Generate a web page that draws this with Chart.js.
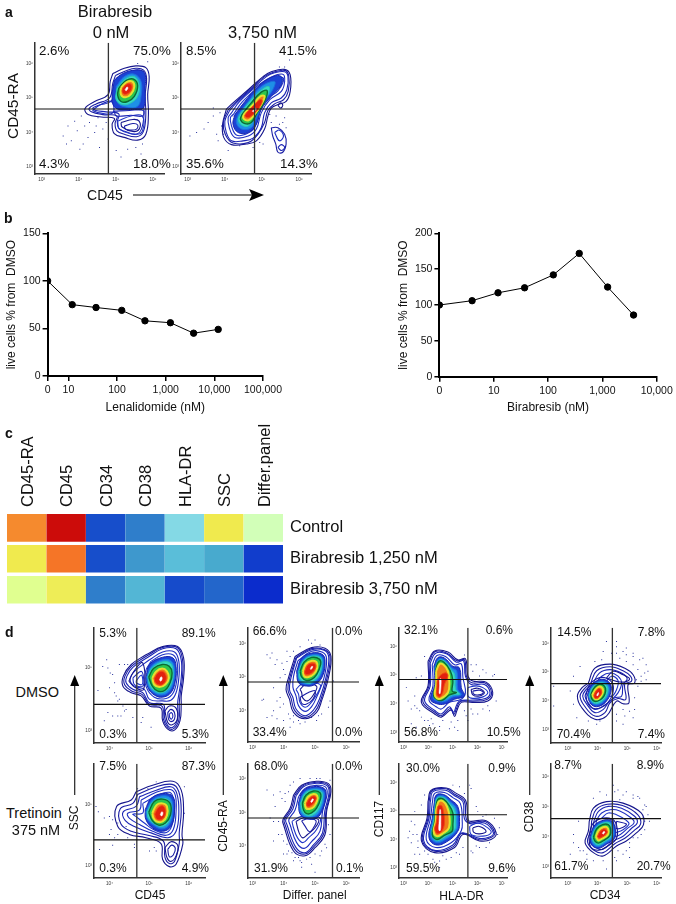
<!DOCTYPE html>
<html>
<head>
<meta charset="utf-8">
<title>Birabresib flow panels</title>
<script src="https://cdn.jsdelivr.net/npm/chart.js@4/dist/chart.umd.min.js"></script>
<style>
html,body{margin:0;padding:0;background:#fff}
#page{position:relative;width:676px;height:904px;overflow:hidden;font-family:"Liberation Sans",Arial,sans-serif;color:#111}
#page canvas{position:absolute}
#page svg{position:absolute;left:0;top:0}
.txt{position:absolute;white-space:pre;line-height:1}
</style>
</head>
<body>
<div id="page"></div>
<script>
// panel b, viability curves (dose nM, % of DMSO)
var lenaDoses = [0, 12, 37, 125, 375, 1250, 3750, 12000];
var lenaLive = [100, 75, 72, 69, 58, 56, 45, 49];
var lenaTicks = [0, 10, 100, 1000, 10000, 100000];
var lenaLiveTicks = [0, 50, 100, 150];
var biraDoses = [0, 4, 12, 37, 125, 375, 1250, 3750];
var biraLive = [100, 106, 117, 124, 142, 172, 125, 86];
var biraTicks = [0, 10, 100, 1000, 10000];
var biraLiveTicks = [0, 50, 100, 150, 200];

// panel c, heatmap (0 to 1)
var heatMarkers = ['CD45-RA', 'CD45', 'CD34', 'CD38', 'HLA-DR', 'SSC', 'Differ.panel'];
var heatRows = ['Control', 'Birabresib 1,250 nM', 'Birabresib 3,750 nM'];
var heatControl = [0.70, 1.00, 0.10, 0.20, 0.42, 0.62, 0.50];
var heat1250 = [0.62, 0.74, 0.10, 0.26, 0.35, 0.30, 0.05];
var heat3750 = [0.55, 0.61, 0.20, 0.33, 0.09, 0.15, 0.00];

// flow plots: log10 intensity, each ring is x,y,x,y...
var a1Pct = ['2.6%', '75.0%', '4.3%', '18.0%'];
var a1Lines = [
 [4.92,5.71,5.23,5.86,5.54,5.93,5.81,5.88,5.90,5.62,5.86,5.10,5.88,4.52,5.81,3.95,5.59,3.78,5.23,3.86,4.96,3.97,4.90,4.24,4.96,4.41,4.61,4.45,4.25,4.52,4.17,4.70,4.43,4.90,4.79,5.10,4.85,5.48],
 [4.99,5.65,5.26,5.78,5.54,5.86,5.75,5.81,5.83,5.57,5.79,5.05,5.81,4.52,5.74,4.02,5.56,3.88,5.23,3.95,5.03,4.05,4.98,4.26,5.03,4.48,4.65,4.52,4.34,4.60,4.28,4.70,4.47,4.83,4.83,5.00,4.92,5.43],
 [5.03,5.59,5.28,5.71,5.54,5.81,5.70,5.77,5.77,5.55,5.74,5.05,5.76,4.52,5.69,4.10,5.54,3.95,5.26,4.03,5.08,4.12,5.04,4.31,5.08,4.54,4.74,4.60,4.46,4.64,4.38,4.71,4.54,4.79,4.88,4.92,4.96,5.38],
 [4.37,4.64,4.56,4.79,4.88,4.90,4.92,4.57,4.56,4.57],
 [5.05,4.33,5.41,4.48,5.71,4.48,5.72,4.05,5.54,3.95,5.10,4.10],
 [5.14,4.29,5.46,4.38,5.63,4.33,5.63,4.10,5.46,4.03,5.17,4.16],
 [5.23,4.19,5.46,4.26,5.59,4.22,5.56,4.10,5.41,4.07,5.26,4.10],
 [4.96,4.62,5.37,4.64,5.74,4.64,5.72,4.48,5.41,4.50,5.01,4.48]
];
var a1Core = [
 [4.96,5.52,5.19,5.71,5.54,5.81,5.77,5.74,5.79,5.29,5.74,4.71,5.46,4.67,5.01,4.70,4.90,5.00],
 [5.01,5.33,5.23,5.62,5.50,5.69,5.68,5.48,5.68,5.05,5.59,4.76,5.32,4.73,5.05,4.86],
 [5.03,5.27,5.26,5.55,5.50,5.62,5.63,5.38,5.59,5.05,5.41,4.86,5.19,4.81,5.01,4.95],
 [5.08,5.29,5.28,5.51,5.48,5.55,5.59,5.36,5.50,5.05,5.32,4.90,5.14,4.90,5.05,5.08],
 [5.14,5.30,5.29,5.46,5.44,5.48,5.50,5.33,5.41,5.11,5.26,5.02,5.14,5.10],
 [5.19,5.29,5.29,5.40,5.41,5.40,5.43,5.27,5.34,5.14,5.23,5.11,5.17,5.19],
 [5.25,5.24,5.30,5.32,5.33,5.29,5.28,5.21]
];
var a1Dots = [3.58,3.90,3.71,4.19,3.80,3.76,3.89,4.33,3.96,4.05,4.07,4.48,4.16,4.19,4.12,3.67,4.25,3.86,4.29,4.29,4.43,4.00,4.52,4.43,4.56,3.57,4.65,4.10,4.74,4.29,4.79,3.81,5.01,3.48,5.14,3.29,5.32,3.52,5.54,3.57,5.68,3.38,5.72,3.67,5.86,6.05,5.59,6.00,4.03,3.52,4.47,4.19,3.67,3.67];

var a2Pct = ['8.5%', '41.5%', '35.6%', '14.3%'];
var a2Lines = [
 [4.04,4.67,4.22,4.86,4.63,5.24,5.03,5.62,5.25,5.76,5.61,5.83,5.76,5.67,5.76,5.19,5.65,4.90,5.43,4.81,5.25,4.71,5.16,4.48,5.07,4.10,4.85,3.76,4.58,3.67,4.18,3.65,3.97,3.86,3.94,4.24],
 [4.08,4.64,4.27,4.86,4.67,5.24,5.07,5.62,5.29,5.74,5.61,5.80,5.72,5.65,5.71,5.21,5.58,4.95,5.34,4.83,5.16,4.64,5.07,4.29,4.89,3.95,4.63,3.71,4.22,3.70,4.02,3.93,3.96,4.29],
 [4.12,4.62,4.31,4.86,4.71,5.24,5.12,5.62,5.34,5.73,5.61,5.76,5.70,5.62,5.67,5.24,5.52,5.00,5.25,4.86,5.07,4.57,4.98,4.14,4.76,3.84,4.49,3.76,4.18,3.76,4.04,4.00,4.00,4.33],
 [4.18,4.57,4.40,4.90,4.85,5.33,5.21,5.59,5.56,5.69,5.61,5.48,5.52,5.19,5.21,4.95,4.98,4.57,4.85,4.10,4.63,3.90,4.27,3.86,4.12,4.14,4.09,4.43],
 [4.24,4.54,4.47,4.89,4.89,5.30,5.25,5.55,5.56,5.59,5.56,5.43,5.43,5.21,5.16,4.98,4.94,4.62,4.80,4.14,4.56,3.95,4.31,3.93,4.18,4.19,4.15,4.43],
 [5.43,4.79,5.50,4.86,5.56,4.79,5.50,4.71],
 [5.25,4.14,5.43,4.14,5.61,3.95,5.65,3.67,5.56,3.43,5.43,3.43,5.37,3.67,5.29,3.90],
 [5.43,3.57,5.52,3.65,5.61,3.57,5.52,3.48],
 [5.34,4.00,5.47,4.07,5.58,3.90,5.47,3.76]
];
var a2Core = [
 [4.27,4.52,4.54,4.90,4.89,5.33,5.29,5.62,5.52,5.62,5.52,5.38,5.25,5.05,4.98,4.67,4.85,4.24,4.63,4.00,4.36,4.00,4.22,4.24],
 [4.36,4.52,4.63,4.90,4.98,5.33,5.34,5.48,5.29,5.24,5.03,4.86,4.85,4.43,4.71,4.14,4.45,4.10,4.31,4.29],
 [4.42,4.54,4.67,4.90,5.03,5.27,5.19,5.33,5.16,5.10,4.98,4.81,4.80,4.43,4.63,4.19,4.45,4.22,4.36,4.38],
 [4.47,4.54,4.71,4.86,4.98,5.17,5.14,5.21,5.07,4.90,4.87,4.57,4.71,4.29,4.54,4.26,4.42,4.38],
 [4.54,4.57,4.76,4.81,4.96,5.05,5.07,5.05,4.98,4.81,4.80,4.52,4.63,4.35,4.49,4.43],
 [4.58,4.57,4.78,4.79,4.94,4.95,5.01,4.92,4.92,4.71,4.76,4.52,4.63,4.43,4.54,4.48],
 [4.74,4.62,4.82,4.70,4.85,4.68,4.77,4.60]
];
var a2Dots = [3.06,3.90,3.24,4.00,3.44,4.10,3.69,4.48,3.69,4.71,3.87,4.57,3.78,3.95,3.82,3.76,3.96,3.95,4.09,3.48,4.40,3.62,4.76,3.57,4.94,3.71,5.21,4.52,5.38,4.48,5.61,4.43,5.56,4.29,5.47,4.24,5.65,4.14,5.25,4.29,5.74,6.10,5.61,5.90,5.47,5.90,4.22,4.48,3.91,4.19,3.55,4.29,5.03,3.67];

var d11Pct = ['5.3%', '89.1%', '0.3%', '5.3%'];
var d11Lines = [
 [4.92,5.42,5.34,5.68,5.72,5.68,5.87,5.32,5.87,4.68,5.81,4.11,5.81,3.84,5.78,3.32,5.64,3.02,5.47,3.05,5.34,3.32,5.30,3.72,5.01,3.79,4.80,4.11,4.55,4.21,4.34,4.42,4.35,4.74,4.55,5.11],
 [4.94,5.38,5.34,5.65,5.71,5.65,5.84,5.29,5.84,4.68,5.78,4.14,5.76,3.86,5.75,3.34,5.61,3.06,5.47,3.11,5.36,3.37,5.33,3.78,5.01,3.84,4.82,4.16,4.57,4.26,4.38,4.47,4.39,4.74,4.56,5.06],
 [4.97,5.34,5.34,5.61,5.68,5.61,5.81,5.26,5.81,4.68,5.75,4.16,5.72,3.89,5.72,3.37,5.60,3.11,5.47,3.16,5.39,3.42,5.36,3.84,5.01,3.89,4.84,4.21,4.59,4.32,4.42,4.53,4.44,4.74,4.59,5.02],
 [5.01,5.26,5.34,5.51,5.64,5.51,5.75,5.21,5.75,4.68,5.68,4.21,5.55,3.97,5.34,3.95,5.01,4.00,4.88,4.32,4.63,4.42,4.52,4.63,4.63,4.89],
 [5.05,5.21,5.34,5.42,5.60,5.42,5.71,5.16,5.70,4.63,5.61,4.21,5.43,4.03,5.13,4.07,4.92,4.42,4.91,4.89],
 [5.40,3.63,5.51,3.79,5.68,3.72,5.71,3.37,5.58,3.19,5.47,3.26],
 [5.47,3.58,5.55,3.68,5.64,3.58,5.64,3.37,5.55,3.29,5.49,3.37],
 [5.51,3.53,5.56,3.58,5.60,3.47,5.56,3.37,5.52,3.42],
 [4.59,4.68,4.80,4.89,4.86,4.68,4.84,4.42,4.63,4.47],
 [4.67,4.58,4.80,4.77,4.84,4.63,4.82,4.47,4.69,4.51],
 [4.49,4.58,4.63,4.92,4.84,5.16,4.86,4.32,4.63,4.39]
];
var d11Core = [
 [4.92,4.68,5.01,5.11,5.34,5.34,5.60,5.32,5.68,5.05,5.66,4.58,5.55,4.21,5.34,4.07,5.13,4.14,4.97,4.37],
 [4.94,4.71,5.05,5.05,5.34,5.26,5.55,5.23,5.64,5.00,5.62,4.58,5.51,4.26,5.33,4.14,5.13,4.21,4.98,4.42],
 [4.97,4.74,5.08,5.00,5.33,5.19,5.53,5.16,5.60,4.95,5.58,4.58,5.47,4.32,5.30,4.21,5.13,4.28,5.01,4.47],
 [4.99,4.71,5.11,4.98,5.33,5.11,5.51,5.05,5.58,4.84,5.53,4.53,5.40,4.29,5.22,4.26,5.08,4.42],
 [5.08,4.68,5.18,4.89,5.33,4.98,5.45,4.89,5.50,4.68,5.41,4.47,5.26,4.39,5.13,4.47],
 [5.13,4.66,5.22,4.84,5.33,4.89,5.41,4.81,5.43,4.63,5.34,4.47,5.22,4.47,5.15,4.55],
 [5.26,4.62,5.30,4.72,5.33,4.68,5.30,4.58]
];
var d11Dots = [3.93,5.26,3.83,5.05,3.96,5.00,4.02,4.84,4.08,4.79,4.25,5.11,4.38,5.11,4.46,5.11,4.13,4.53,4.00,4.37,3.71,4.28,4.13,4.21,4.25,4.00,4.21,3.95,3.96,3.58,4.08,3.47,4.21,3.47,4.42,3.68,4.29,3.47,3.87,3.32,4.59,3.42,4.84,3.42,4.80,3.26,5.05,3.11,4.38,3.63,4.17,4.11,4.34,3.79];

var d21Pct = ['7.5%', '87.3%', '0.3%', '4.9%'];
var d21Lines = [
 [4.67,5.41,5.09,5.62,5.60,5.75,5.81,5.46,5.87,4.76,5.83,4.02,5.85,3.70,5.68,3.05,5.51,2.97,5.34,3.21,5.30,3.72,4.92,3.91,4.50,4.02,4.21,4.28,4.18,4.93,4.55,5.14],
 [4.71,5.32,5.13,5.55,5.58,5.65,5.75,5.41,5.81,4.76,5.76,4.07,5.76,3.72,5.64,3.14,5.51,3.07,5.40,3.27,5.36,3.80,4.97,3.99,4.55,4.12,4.29,4.36,4.27,4.85,4.59,5.03],
 [4.76,5.25,5.18,5.46,5.55,5.57,5.70,5.35,5.75,4.76,5.68,4.12,5.47,3.91,5.05,4.07,4.67,4.25,4.40,4.47,4.35,4.76,4.67,4.93],
 [4.80,5.14,5.18,5.39,5.53,5.48,5.66,5.30,5.68,4.76,5.61,4.18,5.43,3.99,5.09,4.12,4.76,4.34,4.50,4.55,4.46,4.71,4.76,4.82],
 [4.84,5.03,5.22,5.30,5.51,5.39,5.61,5.21,5.64,4.76,5.55,4.23,5.39,4.07,5.11,4.18,4.88,4.39,4.67,4.60,4.59,4.68,4.84,4.71],
 [5.40,3.59,5.55,3.78,5.72,3.67,5.68,3.32,5.55,3.14,5.45,3.27],
 [5.47,3.53,5.57,3.67,5.66,3.57,5.61,3.35,5.51,3.29]
];
var d21Core = [
 [4.90,4.82,5.05,5.19,5.34,5.35,5.60,5.25,5.64,4.76,5.55,4.28,5.34,4.12,5.09,4.23,4.92,4.50],
 [4.92,4.76,5.08,5.14,5.34,5.28,5.55,5.19,5.60,4.76,5.51,4.34,5.33,4.20,5.11,4.32,4.95,4.53],
 [4.95,4.76,5.11,5.09,5.34,5.19,5.51,5.11,5.55,4.74,5.47,4.39,5.30,4.28,5.11,4.39,4.98,4.55],
 [4.99,4.74,5.13,5.09,5.34,5.17,5.53,5.03,5.54,4.66,5.41,4.39,5.24,4.32,5.08,4.47],
 [5.08,4.71,5.19,4.98,5.34,5.03,5.45,4.93,5.45,4.64,5.34,4.44,5.19,4.44,5.11,4.55],
 [5.14,4.68,5.23,4.89,5.34,4.95,5.41,4.82,5.39,4.60,5.30,4.50,5.19,4.52],
 [5.28,4.66,5.32,4.76,5.35,4.72,5.32,4.62]
];
var d21Dots = [3.66,4.93,3.72,4.76,3.87,4.55,4.00,4.60,4.08,4.50,4.04,4.18,4.21,4.02,4.00,4.02,4.13,3.91,3.75,3.53,4.08,3.67,4.46,3.91,4.63,3.59,4.63,3.70,4.42,4.28,4.71,5.51,4.97,5.51,5.18,5.73,5.89,5.57,5.89,4.71,5.01,3.48,5.13,3.59,5.18,3.48,4.21,4.39];

var d12Pct = ['66.6%', '0.0%', '33.4%', '0.0%'];
var d12Lines = [
 [4.36,5.61,4.89,5.87,5.32,5.85,5.51,5.61,5.43,4.98,5.21,4.29,5.05,3.95,4.68,3.76,4.31,3.95,4.18,4.34,4.07,4.63,4.15,4.98],
 [4.39,5.58,4.89,5.84,5.31,5.81,5.48,5.60,5.39,4.98,5.18,4.31,5.00,3.98,4.68,3.80,4.35,4.00,4.23,4.37,4.13,4.63,4.19,4.98],
 [4.41,5.56,4.89,5.81,5.29,5.79,5.44,5.58,5.35,4.98,5.14,4.34,4.95,4.02,4.68,3.85,4.39,4.05,4.29,4.39,4.18,4.63,4.23,4.98],
 [4.45,5.48,4.89,5.76,5.24,5.73,5.37,5.54,5.29,4.98,5.07,4.44,4.89,4.12,4.68,3.98,4.47,4.15,4.39,4.44,4.29,4.70,4.31,5.02],
 [4.39,4.63,4.57,4.78,5.16,4.78,5.03,4.44,4.84,4.20,4.68,4.10,4.52,4.24,4.47,4.49],
 [4.52,4.63,4.68,4.76,5.05,4.73,4.95,4.47,4.76,4.29,4.61,4.37,4.57,4.54],
 [4.52,4.39,4.79,4.54,5.00,4.59,4.93,4.34,4.73,4.20,4.58,4.21]
];
var d12Core = [
 [4.41,5.17,4.57,5.56,4.89,5.71,5.21,5.68,5.32,5.51,5.24,5.02,5.00,4.78,4.73,4.73,4.47,4.83],
 [4.45,5.17,4.61,5.51,4.89,5.66,5.18,5.63,5.27,5.46,5.18,5.05,4.97,4.83,4.73,4.78,4.49,4.88],
 [4.48,5.17,4.63,5.48,4.89,5.61,5.16,5.58,5.22,5.44,5.14,5.07,4.95,4.88,4.79,4.81,4.52,4.93],
 [4.52,5.17,4.65,5.44,4.89,5.58,5.14,5.53,5.18,5.37,5.05,5.07,4.89,4.93,4.71,4.90,4.57,5.00],
 [4.61,5.17,4.71,5.39,4.90,5.48,5.05,5.44,5.07,5.27,4.97,5.09,4.79,5.00,4.65,5.02],
 [4.67,5.17,4.76,5.35,4.90,5.41,5.01,5.37,5.01,5.25,4.89,5.12,4.76,5.07,4.68,5.09],
 [4.85,5.25,4.90,5.32,4.93,5.30,4.87,5.22]
];
var d12Dots = [3.46,5.66,3.56,5.56,3.78,5.51,3.94,5.41,4.10,5.46,4.10,5.76,4.31,5.76,4.89,6.00,5.00,6.10,4.31,5.32,4.04,5.07,3.88,4.39,3.30,4.31,3.46,3.80,3.62,3.85,3.78,3.76,3.99,3.71,4.20,3.76,4.31,3.66,4.52,3.61,5.05,3.71,5.21,3.90,5.43,4.10,4.20,3.51,3.88,4.10,3.67,4.00,
 3.62,5.71,3.72,5.37,3.99,5.22,3.88,4.98,3.67,4.68,3.35,4.34,3.78,4.29,3.99,4.20,4.15,3.90,4.31,3.85,4.47,3.71,4.68,3.66,4.89,3.80,5.11,3.85,5.48,4.29,5.59,4.88,4.79,6.10,5.16,5.95,4.52,5.90,4.20,5.61];

var d22Pct = ['68.0%', '0.0%', '31.9%', '0.1%'];
var d22Lines = [
 [4.31,5.51,4.57,5.80,5.05,5.92,5.43,5.85,5.51,5.61,5.37,5.02,5.32,4.34,5.00,3.95,4.68,3.71,4.31,3.85,3.99,4.63,3.97,4.78,4.20,5.12],
 [4.35,5.50,4.61,5.79,5.05,5.89,5.39,5.83,5.48,5.60,5.35,5.02,5.28,4.37,4.97,3.99,4.68,3.76,4.35,3.90,4.04,4.63,4.01,4.78,4.24,5.11],
 [4.39,5.49,4.63,5.76,5.05,5.86,5.37,5.80,5.45,5.59,5.31,5.02,5.24,4.39,4.95,4.03,4.68,3.80,4.39,3.95,4.10,4.63,4.06,4.78,4.29,5.10],
 [4.47,5.46,4.68,5.71,5.05,5.80,5.32,5.76,5.39,5.56,5.24,5.02,5.16,4.44,4.89,4.13,4.65,3.93,4.41,4.10,4.20,4.63,4.16,4.78,4.36,5.07],
 [4.26,4.73,4.57,4.88,5.16,4.83,5.05,4.49,4.79,4.24,4.61,4.10,4.44,4.24,4.31,4.54],
 [4.39,4.73,4.63,4.83,5.11,4.78,5.00,4.54,4.76,4.34,4.61,4.24,4.49,4.39],
 [4.57,4.75,4.79,4.81,5.03,4.75,4.95,4.54,4.82,4.42,4.68,4.59]
];
var d22Core = [
 [4.47,5.27,4.61,5.63,4.95,5.76,5.29,5.71,5.35,5.51,5.24,5.07,5.05,4.83,4.73,4.81,4.52,4.95],
 [4.50,5.27,4.65,5.59,4.95,5.71,5.24,5.66,5.30,5.49,5.18,5.07,5.00,4.88,4.73,4.85,4.54,4.98],
 [4.54,5.27,4.68,5.56,4.95,5.66,5.20,5.61,5.24,5.46,5.12,5.10,4.95,4.93,4.76,4.90,4.59,5.02],
 [4.59,5.27,4.71,5.51,4.95,5.63,5.16,5.58,5.18,5.41,5.05,5.12,4.89,4.98,4.73,4.96,4.63,5.07],
 [4.67,5.27,4.78,5.46,4.95,5.54,5.07,5.49,5.07,5.35,4.97,5.17,4.82,5.10,4.71,5.12],
 [4.73,5.27,4.82,5.41,4.95,5.48,5.03,5.44,5.01,5.34,4.90,5.22,4.80,5.17,4.74,5.19],
 [4.86,5.32,4.92,5.40,4.95,5.38,4.89,5.29]
];
var d22Dots = [3.46,5.66,3.88,5.61,4.04,5.56,4.20,5.80,4.52,6.00,4.84,6.00,5.05,6.00,3.72,5.17,4.04,5.32,3.67,4.15,3.83,4.34,3.99,4.15,4.15,3.85,4.36,3.66,4.52,3.56,4.73,3.61,5.00,3.76,5.21,3.85,5.48,4.34,4.57,3.37,5.00,3.22,5.16,3.71,4.10,3.76,5.37,3.95,
 3.67,5.51,3.94,5.41,4.15,5.61,4.31,5.90,5.16,6.00,5.48,5.95,3.56,4.83,3.83,4.73,3.94,4.34,4.10,4.05,4.26,3.80,4.47,3.66,4.84,3.66,5.32,4.05,5.43,4.63,4.57,3.51,4.89,3.46,4.31,3.56,3.67,4.73,3.99,3.76];

var d13Pct = ['32.1%', '0.6%', '56.8%', '10.5%'];
var d13Lines = [
 [3.99,5.48,4.26,5.84,4.80,5.80,5.20,5.53,5.51,5.57,5.61,4.97,5.81,4.80,6.35,4.76,6.62,4.40,6.42,4.11,5.81,4.06,5.34,4.06,5.16,3.77,5.07,3.57,4.93,3.80,4.53,3.55,4.26,3.66,3.72,4.06,3.99,4.63],
 [4.03,5.45,4.27,5.81,4.77,5.76,5.16,5.50,5.47,5.53,5.55,4.97,5.77,4.74,6.31,4.73,6.57,4.40,6.38,4.16,5.81,4.10,5.30,4.09,5.15,3.86,5.04,3.64,4.89,3.85,4.53,3.60,4.27,3.72,3.78,4.09,4.03,4.63],
 [4.08,5.42,4.30,5.76,4.76,5.73,5.14,5.45,5.43,5.50,5.51,4.97,5.74,4.68,6.28,4.68,6.51,4.40,6.35,4.20,5.81,4.14,5.27,4.11,5.14,3.94,5.03,3.72,4.86,3.91,4.53,3.66,4.28,3.77,3.85,4.11,4.08,4.63],
 [4.16,5.36,4.35,5.68,4.70,5.65,5.07,5.36,5.34,5.39,5.41,4.91,5.51,4.40,5.34,4.17,4.86,4.06,4.53,3.83,4.32,3.91,4.03,4.14,4.19,4.63],
 [5.61,4.57,5.95,4.63,6.22,4.57,6.42,4.40,6.22,4.25,5.81,4.20,5.61,4.28],
 [5.74,4.51,6.01,4.55,6.28,4.40,6.08,4.28,5.81,4.32],
 [5.81,4.45,6.08,4.48,6.24,4.40,6.05,4.32,5.84,4.35]
];
var d13Core = [
 [4.23,5.31,4.39,5.61,4.66,5.59,5.00,5.31,5.27,5.25,5.34,4.57,5.47,4.28,5.07,4.17,4.66,4.00,4.32,4.02,4.09,4.17,4.26,4.68],
 [4.26,5.25,4.42,5.56,4.66,5.53,4.97,5.25,5.16,5.14,5.20,4.51,5.34,4.32,5.00,4.25,4.66,4.09,4.35,4.11,4.19,4.23,4.30,4.68],
 [4.30,5.25,4.43,5.50,4.66,5.48,4.93,5.19,5.07,5.02,5.11,4.51,5.27,4.34,4.97,4.32,4.66,4.17,4.39,4.17,4.23,4.28,4.32,4.68],
 [4.30,5.19,4.43,5.48,4.64,5.45,4.89,5.16,5.00,4.80,4.97,4.45,5.14,4.40,4.86,4.32,4.59,4.14,4.39,4.14,4.22,4.28,4.30,4.68],
 [4.32,5.14,4.46,5.39,4.62,5.36,4.80,5.14,4.86,4.74,4.80,4.40,4.53,4.20,4.35,4.20,4.26,4.34,4.32,4.68],
 [4.35,4.57,4.38,4.85,4.53,5.02,4.73,5.08,4.80,4.97,4.66,4.68,4.59,4.40,4.46,4.25,4.35,4.32],
 [4.45,4.85,4.51,4.88,4.52,4.68,4.48,4.36,4.44,4.38,4.46,4.63]
];
var d13Dots = [3.18,4.11,3.31,3.83,3.54,3.86,3.72,3.55,3.99,3.43,4.19,3.32,4.46,3.23,4.93,3.38,4.86,3.15,5.20,3.43,5.54,3.60,5.81,3.66,6.22,3.83,6.49,3.77,6.76,4.11,6.69,5.02,6.35,5.08,6.08,4.97,5.81,5.14,5.74,5.36,3.72,4.97,3.45,4.28,3.31,3.32,5.47,5.70,4.05,3.26,
 3.45,3.94,3.65,3.77,3.85,3.43,4.12,3.49,4.59,3.43,5.07,3.20,5.61,3.43,6.01,3.66,6.42,3.94,6.62,4.97,6.22,5.19,5.95,5.36,5.47,3.77,5.20,3.09,4.46,3.09,3.51,3.20,3.11,4.57,3.51,4.91,3.85,5.65,5.74,3.83];

var d23Pct = ['30.0%', '0.9%', '59.5%', '9.6%'];
var d23Lines = [
 [3.99,5.33,4.12,5.73,4.73,5.81,5.14,5.62,5.51,5.39,5.61,4.75,5.68,4.64,6.35,4.66,6.76,4.23,6.55,4.00,6.08,3.95,5.41,4.18,5.07,3.72,4.26,3.54,3.72,3.95,3.95,4.75],
 [4.03,5.32,4.15,5.71,4.72,5.78,5.09,5.58,5.46,5.36,5.54,4.74,5.70,4.59,6.31,4.63,6.70,4.23,6.50,4.05,6.08,3.99,5.36,4.21,5.03,3.76,4.26,3.59,3.76,3.96,3.99,4.75],
 [4.08,5.31,4.19,5.68,4.70,5.73,5.07,5.54,5.41,5.33,5.47,4.73,5.74,4.55,6.28,4.58,6.65,4.23,6.46,4.08,6.08,4.04,5.34,4.23,5.00,3.81,4.26,3.62,3.81,3.97,4.03,4.75],
 [4.16,5.27,4.26,5.62,4.66,5.65,5.00,5.47,5.30,5.27,5.38,4.64,5.34,4.31,4.93,3.89,4.30,3.72,3.92,4.00,4.09,4.75],
 [5.68,4.46,6.01,4.58,6.42,4.41,6.55,4.23,6.22,4.12,5.74,4.18],
 [5.81,4.41,6.08,4.46,6.35,4.29,6.08,4.20,5.84,4.26]
];
var d23Core = [
 [4.23,5.21,4.32,5.56,4.62,5.58,4.93,5.39,5.20,5.16,5.27,4.64,5.20,4.29,4.80,3.95,4.32,3.81,4.03,4.06,4.16,4.75],
 [4.26,5.19,4.35,5.50,4.62,5.53,4.89,5.33,5.14,5.10,5.20,4.64,5.14,4.31,4.76,4.04,4.35,3.89,4.08,4.12,4.19,4.70],
 [4.28,5.16,4.36,5.45,4.62,5.47,4.86,5.27,5.07,5.04,5.11,4.64,5.07,4.35,4.73,4.12,4.35,3.97,4.15,4.18,4.23,4.70],
 [4.30,5.10,4.39,5.41,4.62,5.42,4.84,5.21,5.00,4.93,5.00,4.52,4.97,4.29,4.66,4.15,4.35,4.00,4.16,4.18,4.26,4.64],
 [4.32,5.04,4.42,5.33,4.59,5.35,4.76,5.16,4.86,4.81,4.84,4.41,4.62,4.23,4.35,4.12,4.22,4.29,4.30,4.64],
 [4.35,4.75,4.39,5.16,4.54,5.19,4.62,4.98,4.66,4.64,4.59,4.35,4.39,4.20,4.26,4.35,4.32,4.58],
 [4.44,4.64,4.47,5.05,4.50,5.04,4.51,4.60,4.49,4.32,4.43,4.33]
];
var d23Dots = [3.18,4.06,3.31,3.89,3.54,4.18,3.58,3.72,3.65,3.48,3.99,3.48,4.19,3.31,4.59,3.43,4.93,3.37,5.41,3.72,5.74,3.60,5.95,3.77,6.35,3.72,6.82,4.18,6.69,4.75,6.01,4.98,5.74,5.79,5.47,5.62,3.72,5.21,3.45,4.52,3.31,4.64,4.46,3.02,5.14,3.54,6.22,4.81,
 3.24,4.29,3.38,4.18,3.58,3.95,3.85,3.60,4.26,3.20,4.73,3.31,5.27,3.48,5.81,3.54,6.08,3.72,6.49,3.89,6.89,4.41,6.35,4.87,5.95,5.16,5.68,5.91,5.27,5.85,5.00,5.91,3.85,5.56,3.45,4.98,3.45,3.48,4.46,3.25];

var d14Pct = ['14.5%', '7.8%', '70.4%', '7.4%'];
var d14Lines = [
 [3.69,4.61,3.91,5.13,4.42,5.27,4.92,5.13,5.20,4.90,5.25,4.61,5.03,4.56,5.06,3.92,4.86,3.89,4.64,3.98,4.30,3.46,3.91,3.35,3.47,3.75,3.32,4.15,3.47,4.44],
 [3.77,4.61,3.97,5.04,4.42,5.18,4.86,5.04,5.11,4.85,5.14,4.67,4.92,4.58,4.95,4.04,4.69,4.07,4.42,3.92,4.25,3.58,3.91,3.46,3.56,3.81,3.41,4.15,3.55,4.41],
 [3.84,4.58,4.06,4.96,4.42,5.08,4.81,4.96,5.00,4.76,4.86,4.56,4.81,4.15,4.58,4.10,4.36,3.92,4.19,3.69,3.91,3.58,3.64,3.87,3.50,4.15,3.61,4.38],
 [3.91,4.56,4.14,4.85,4.42,4.96,4.69,4.85,4.81,4.61,4.69,4.27,4.44,4.00,4.19,3.81,3.91,3.69,3.69,3.92,3.58,4.15,3.69,4.38],
 [4.25,4.61,4.47,4.85,4.69,4.70,4.64,4.38,4.47,4.15,4.30,4.27],
 [4.30,4.79,4.53,5.02,4.86,4.90,5.08,4.76,4.92,4.65,4.64,4.67],
 [3.61,4.19,3.72,4.53,3.97,4.76,4.28,4.79,4.51,4.58,4.51,4.23,4.35,3.93,4.11,3.75,3.84,3.73,3.66,3.92]
];
var d14Core = [
 [3.66,4.21,3.77,4.50,3.99,4.70,4.25,4.73,4.44,4.56,4.44,4.27,4.30,3.98,4.08,3.81,3.86,3.81,3.72,3.98],
 [3.69,4.19,3.80,4.46,3.99,4.64,4.22,4.67,4.38,4.52,4.39,4.27,4.27,4.03,4.06,3.87,3.86,3.87,3.75,4.00],
 [3.72,4.19,3.82,4.44,3.99,4.59,4.19,4.61,4.33,4.48,4.33,4.27,4.23,4.06,4.04,3.92,3.88,3.92,3.77,4.04],
 [3.77,4.19,3.86,4.41,4.00,4.55,4.17,4.56,4.27,4.42,4.25,4.23,4.15,4.07,4.00,3.98,3.88,3.98,3.80,4.07],
 [3.82,4.19,3.91,4.36,4.03,4.48,4.14,4.46,4.19,4.35,4.14,4.19,4.03,4.06,3.91,4.06],
 [3.88,4.19,3.95,4.34,4.04,4.42,4.11,4.38,4.14,4.27,4.06,4.13,3.97,4.07,3.89,4.10],
 [3.97,4.19,4.02,4.28,4.04,4.26,4.00,4.16]
];
var d14Dots = [4.30,6.06,4.64,5.88,4.86,5.71,4.97,5.60,5.20,5.54,5.42,5.42,5.59,4.96,5.47,4.67,5.36,4.50,5.20,5.25,4.97,5.36,5.36,5.08,5.64,5.25,4.64,3.52,4.92,3.46,5.08,3.63,4.86,3.17,3.97,3.17,3.30,3.40,2.52,3.81,2.52,4.50,3.19,4.85,4.19,5.71,3.91,5.36,5.47,4.85,5.25,4.10,
 4.64,5.65,4.97,5.83,5.20,5.65,5.53,5.48,5.70,5.02,5.31,4.73,5.64,4.73,4.75,5.48,4.47,5.65,4.14,5.42,3.41,5.19,5.25,3.69,4.86,3.69,4.64,3.29,4.08,3.29,3.69,3.29,3.19,3.87,3.08,4.33,5.20,3.40,4.64,6.06];

var d24Pct = ['8.7%', '8.9%', '61.7%', '20.7%'];
var d24Lines = [
 [3.72,4.51,3.86,4.95,4.30,5.17,4.86,5.12,5.47,4.79,5.55,4.40,5.31,4.12,4.97,3.85,4.64,3.68,4.19,3.35,3.86,3.46,3.58,3.79,3.69,4.18],
 [3.80,4.51,3.95,4.90,4.33,5.08,4.84,5.04,5.36,4.73,5.45,4.42,5.23,4.20,4.92,3.94,4.58,3.76,4.19,3.46,3.88,3.54,3.66,3.83,3.77,4.18],
 [3.88,4.53,4.03,4.84,4.36,5.01,4.81,4.95,5.25,4.68,5.34,4.46,5.14,4.27,4.86,4.01,4.53,3.85,4.17,3.57,3.91,3.65,3.75,3.85,3.84,4.18],
 [3.97,4.57,4.14,4.79,4.42,4.90,4.75,4.86,5.14,4.62,5.23,4.46,5.03,4.29,4.77,4.07,4.47,3.94,4.19,3.72,3.95,3.76,3.80,3.94,3.91,4.23],
 [4.14,4.62,4.36,4.79,4.64,4.73,4.97,4.54,5.06,4.42,4.86,4.23,4.58,4.12,4.44,4.07,4.53,4.51],
 [3.71,4.01,3.82,4.40,4.10,4.60,4.47,4.60,4.64,4.38,4.64,3.94,4.34,3.68,4.04,3.54,3.77,3.65],
 [4.64,4.51,4.97,4.42,4.86,4.31,4.64,4.27]
];
var d24Core = [
 [3.75,4.01,3.88,4.35,4.14,4.53,4.44,4.54,4.58,4.35,4.58,3.96,4.30,3.74,4.03,3.61,3.80,3.72],
 [3.78,3.99,3.91,4.31,4.16,4.49,4.42,4.50,4.53,4.31,4.53,3.98,4.28,3.79,4.03,3.66,3.84,3.76],
 [3.81,3.98,3.95,4.29,4.17,4.44,4.39,4.46,4.48,4.29,4.47,4.01,4.26,3.85,4.03,3.72,3.87,3.82],
 [3.86,3.98,3.97,4.26,4.17,4.40,4.36,4.40,4.44,4.26,4.42,4.04,4.24,3.89,4.03,3.78,3.91,3.85],
 [3.94,3.99,4.03,4.20,4.18,4.31,4.32,4.31,4.37,4.18,4.33,4.04,4.17,3.94,4.03,3.87],
 [4.00,4.00,4.08,4.16,4.19,4.25,4.28,4.23,4.33,4.15,4.26,4.05,4.15,3.98,4.05,3.95],
 [4.16,4.11,4.21,4.17,4.25,4.15,4.19,4.08]
];
var d24Dots = [4.53,5.72,4.58,5.50,4.86,5.39,5.20,5.28,5.42,5.28,5.64,5.01,5.59,4.51,5.42,4.23,5.53,4.62,5.53,4.90,5.20,3.96,4.97,3.52,4.69,3.52,4.58,3.30,4.30,2.91,3.64,3.24,3.36,3.63,3.08,3.41,3.52,3.52,3.19,3.79,5.20,5.39,4.75,5.23,5.47,4.07,5.08,3.63,4.08,5.50,
 4.69,5.56,4.97,5.50,5.36,5.34,5.59,5.06,5.70,4.73,5.59,4.23,5.36,3.96,5.08,3.79,4.86,3.41,4.64,3.19,4.19,3.19,3.86,3.19,3.64,3.41,3.41,3.52,3.19,4.07,3.36,4.51,3.86,5.28,4.30,5.39,5.75,4.51,5.08,3.30];

Chart.defaults.animation = false;
Chart.defaults.font.family = '"Liberation Sans", Arial, sans-serif';
Chart.defaults.color = '#222';
Chart.defaults.plugins.legend.display = false;
Chart.defaults.plugins.tooltip.enabled = false;

var page = document.getElementById('page');

function makeCanvas(left, top, width, height) {
    var c = document.createElement('canvas');
    c.width = width;
    c.height = height;
    c.style.left = left + 'px';
    c.style.top = top + 'px';
    c.style.width = width + 'px';
    c.style.height = height + 'px';
    page.appendChild(c);
    return c;
}

function addText(str, x, y, size, opts) {
    opts = opts || {};
    var d = document.createElement('div');
    d.className = 'txt';
    d.textContent = str;
    d.style.left = x + 'px';
    d.style.top = y + 'px';
    d.style.fontSize = size + 'px';
    if (opts.bold) d.style.fontWeight = 'bold';
    var tr = opts.center ? 'translate(-50%,-50%)' : 'translateY(-50%)';
    if (opts.rot) tr += ' rotate(' + opts.rot + 'deg)';
    d.style.transform = tr;
    page.appendChild(d);
}

// ---- flow plots ----
var sup = {3: '10³', 4: '10⁴', 5: '10⁵', 6: '10⁶', 7: '10⁷'};
var lineColors = ['#16168c', '#1a1ea4', '#1c26b4', '#1e2ec0', '#2036c8'];
var coreFills = ['#1c42d4', '#1e90e6', '#36d8c4', '#2cc64c', '#f07a1a', '#e2200f', '#ffffff'];
var coreEdges = ['#1726b0', '#1c6fdc', '#2cc8b0', '#0c6c34', '#e6e030', '#f04a12', '#ffffff'];
var coreWidths = [1, 1, 1, 1.4, 2, 1, 0.5];

function ringPoints(flat) {
    var pts = [];
    for (var i = 0; i < flat.length; i += 2) pts.push({x: flat[i], y: flat[i + 1]});
    pts.push({x: flat[0], y: flat[1]});
    return pts;
}

function dotPoints(flat) {
    var pts = [];
    for (var i = 0; i < flat.length; i += 2) pts.push({x: flat[i], y: flat[i + 1]});
    return pts;
}

function drawFlow(p) {
    var yAxisW = 20, xAxisH = 14, pad = 3;
    var c = makeCanvas(p.box[0] - yAxisW, p.box[1] - pad, Math.ceil(p.box[2] + yAxisW + pad), Math.ceil(p.box[3] + xAxisH + pad));
    var sets = [];
    sets.push({data: dotPoints(p.dots), showLine: false, pointRadius: 0.7, pointStyle: 'rect', backgroundColor: '#26309c', borderWidth: 0});
    p.lines.forEach(function (r, i) {
        sets.push({data: ringPoints(r), showLine: true, tension: 0.4, pointRadius: 0, borderWidth: 1.1, borderColor: lineColors[i % lineColors.length], fill: false});
    });
    p.core.forEach(function (r, i) {
        sets.push({data: ringPoints(r), showLine: true, tension: 0.4, pointRadius: 0, borderWidth: coreWidths[i], borderColor: coreEdges[i], backgroundColor: coreFills[i], fill: 'shape'});
    });
    // quadrant gates
    sets.push({data: [{x: p.gate[0], y: p.yRange[0]}, {x: p.gate[0], y: p.yRange[1]}], showLine: true, pointRadius: 0, borderWidth: 1.3, borderColor: '#333', fill: false});
    sets.push({data: [{x: p.xRange[0], y: p.gate[1]}, {x: p.xRange[1], y: p.gate[1]}], showLine: true, pointRadius: 0, borderWidth: 1.1, borderColor: '#111', fill: false});
    sets.forEach(function (s, i) { s.order = -i; });

    new Chart(c, {
        type: 'scatter',
        data: {datasets: sets},
        options: {
            responsive: false,
            devicePixelRatio: 1,
            events: [],
            layout: {padding: {top: pad, right: pad, left: 0, bottom: 0}},
            scales: {
                x: {
                    type: 'linear', min: p.xRange[0], max: p.xRange[1],
                    grid: {display: false, drawTicks: false},
                    border: {color: '#333', width: 1.5},
                    afterBuildTicks: function (s) { s.ticks = p.xTicks.map(function (v) { return {value: v}; }); },
                    afterFit: function (s) { s.height = xAxisH; },
                    ticks: {autoSkip: false, maxRotation: 0, padding: 2.5, font: {size: 4.6}, color: '#333', callback: function (v) { return sup[v]; }}
                },
                y: {
                    type: 'linear', min: p.yRange[0], max: p.yRange[1],
                    grid: {display: false, drawTicks: false},
                    border: {color: '#333', width: 1.5},
                    afterBuildTicks: function (s) { s.ticks = p.yTicks.map(function (v) { return {value: v}; }); },
                    afterFit: function (s) { s.width = yAxisW; },
                    ticks: {autoSkip: false, padding: 2, font: {size: 4.6}, color: '#333', callback: function (v) { return sup[v]; }}
                }
            }
        }
    });
    p.pct.forEach(function (t, i) { addText(t, p.spots[i][0], p.spots[i][1], p.pctSize); });
}

var flowPlots = [
 {box: [35, 41, 130, 132.7], xRange: [2.82, 6.30], yRange: [2.80, 6.60], xTicks: [3, 4, 5, 6], yTicks: [3, 4, 5, 6], gate: [4.80, 4.68],
  lines: a1Lines, core: a1Core, dots: a1Dots, pct: a1Pct, pctSize: 13.3, spots: [[39, 50.7], [133, 50.7], [39, 164], [133, 164]]},
 {box: [181, 41, 130.7, 132.7], xRange: [2.82, 6.32], yRange: [2.80, 6.60], xTicks: [3, 4, 5, 6], yTicks: [3, 4, 5, 6], gate: [4.80, 4.68],
  lines: a2Lines, core: a2Core, dots: a2Dots, pct: a2Pct, pctSize: 13.3, spots: [[186, 50.7], [279, 50.7], [186, 164], [280, 164]]},
 {box: [94.3, 626, 111.4, 116.3], xRange: [3.61, 6.41], yRange: [2.61, 6.28], xTicks: [4, 5, 6], yTicks: [3, 5], gate: [4.69, 3.84],
  lines: d11Lines, core: d11Core, dots: d11Dots, pct: d11Pct, pctSize: 12, spots: [[99.3, 632.7], [181.7, 632.7], [99.3, 734], [181.7, 734]]},
 {box: [94.3, 761.7, 111.4, 115.6], xRange: [3.61, 6.41], yRange: [2.60, 6.32], xTicks: [4, 5, 6], yTicks: [3, 5], gate: [4.69, 3.84],
  lines: d21Lines, core: d21Core, dots: d21Dots, pct: d21Pct, pctSize: 12, spots: [[99.3, 766], [181.7, 766], [99.3, 868.3], [181.7, 868.3]]},
 {box: [247.7, 626, 111.6, 115.7], xRange: [2.85, 6.41], yRange: [3.07, 6.46], xTicks: [3, 4, 5, 6], yTicks: [4, 5, 6], gate: [5.56, 4.85],
  lines: d12Lines, core: d12Core, dots: d12Dots, pct: d12Pct, pctSize: 12, spots: [[252.7, 631], [335, 631], [252.7, 732.3], [335, 732.3]]},
 {box: [247.7, 761.7, 111.6, 115.6], xRange: [2.85, 6.41], yRange: [3.05, 6.44], xTicks: [3, 4, 5, 6], yTicks: [4, 5, 6], gate: [5.56, 4.83],
  lines: d22Lines, core: d22Core, dots: d22Dots, pct: d22Pct, pctSize: 12, spots: [[254, 766], [335, 766], [254, 868.3], [336, 868.3]]},
 {box: [399.3, 626, 108.4, 115.7], xRange: [2.81, 7.20], yRange: [2.69, 6.64], xTicks: [3, 4, 5, 6, 7], yTicks: [3, 4, 5, 6], gate: [5.61, 4.85],
  lines: d13Lines, core: d13Core, dots: d13Dots, pct: d13Pct, pctSize: 12, spots: [[404, 630], [485.7, 630], [404, 731.7], [486.7, 731.7]]},
 {box: [399.3, 761.7, 108.4, 115.6], xRange: [2.81, 7.20], yRange: [2.65, 6.66], xTicks: [3, 4, 5, 6, 7], yTicks: [3, 4, 5, 6], gate: [5.61, 4.87],
  lines: d23Lines, core: d23Core, dots: d23Dots, pct: d23Pct, pctSize: 12, spots: [[406, 767.7], [488.3, 767.7], [406, 868.3], [488.3, 868.3]]},
 {box: [550.7, 626, 111, 116.3], xRange: [2.43, 6.14], yRange: [2.52, 6.54], xTicks: [3, 4, 5, 6], yTicks: [3, 4, 5, 6], gate: [4.50, 4.59],
  lines: d14Lines, core: d14Core, dots: d14Dots, pct: d14Pct, pctSize: 12, spots: [[557.3, 632.3], [637.7, 632.3], [556.7, 734], [637.7, 734]]},
 {box: [550.7, 761.7, 111, 115.6], xRange: [2.43, 6.14], yRange: [2.61, 6.44], xTicks: [3, 4, 5, 6], yTicks: [3, 4, 5, 6], gate: [4.50, 4.60],
  lines: d24Lines, core: d24Core, dots: d24Dots, pct: d24Pct, pctSize: 12, spots: [[554.3, 765], [636.7, 765], [554.3, 866], [636.7, 866]]}
];
flowPlots.forEach(drawFlow);

// ---- panel b ----
function drawCurve(opts) {
    var c = makeCanvas(opts.left, opts.top, opts.width, opts.height);
    var pts = opts.doses.map(function (d, i) { return {x: d === 0 ? opts.zeroAt : d, y: opts.live[i]}; });
    new Chart(c, {
        type: 'line',
        data: {datasets: [{data: pts, borderColor: '#000', borderWidth: 1, backgroundColor: '#000', pointRadius: 3.2, tension: 0, fill: false}]},
        options: {
            responsive: false,
            devicePixelRatio: 1,
            events: [],
            layout: {padding: {top: opts.padTop, right: opts.padRight, left: 0, bottom: 0}},
            scales: {
                x: {
                    type: 'logarithmic', min: opts.zeroAt, max: opts.xTicks[opts.xTicks.length - 1],
                    grid: {drawOnChartArea: false, color: '#000', lineWidth: 1.5, tickLength: 5},
                    border: {color: '#000', width: 2},
                    afterBuildTicks: function (s) { s.ticks = opts.xTicks.map(function (v) { return {value: v === 0 ? opts.zeroAt : v}; }); },
                    afterFit: function (s) { s.height = opts.xAxisH; },
                    ticks: {autoSkip: false, maxRotation: 0, padding: 3, font: {size: 10.5}, color: '#111', callback: function (v) { return v === opts.zeroAt ? '0' : Number(v).toLocaleString('en-US'); }},
                    title: {display: true, text: opts.xTitle, font: {size: 12}, color: '#111', padding: {top: 0, bottom: 1.5}}
                },
                y: {
                    type: 'linear', min: 0, max: opts.yTicks[opts.yTicks.length - 1],
                    grid: {drawOnChartArea: false, color: '#000', lineWidth: 1.5, tickLength: 5},
                    border: {color: '#000', width: 2},
                    afterBuildTicks: function (s) { s.ticks = opts.yTicks.map(function (v) { return {value: v}; }); },
                    afterFit: function (s) { s.width = opts.yAxisW; },
                    ticks: {autoSkip: false, padding: 2, font: {size: 10.5}, color: '#111'},
                    title: {display: true, text: 'live cells % from  DMSO', font: {size: 12}, color: '#111', padding: {top: 4, bottom: 0}}
                }
            }
        }
    });
}

drawCurve({left: 0, top: 223, width: 290, height: 193, doses: lenaDoses, live: lenaLive, xTicks: lenaTicks, yTicks: lenaLiveTicks,
    zeroAt: 3.74, xTitle: 'Lenalidomide (nM)', yAxisW: 47.6, xAxisH: 40, padTop: 10.3, padRight: 27});
drawCurve({left: 392, top: 223, width: 284, height: 193, doses: biraDoses, live: biraLive, xTicks: biraTicks, yTicks: biraLiveTicks,
    zeroAt: 1, xTitle: 'Birabresib (nM)', yAxisW: 47.4, xAxisH: 39.3, padTop: 10.3, padRight: 19.3});

// ---- panel c ----
var heatStops = [[0, '#0b2ccc'], [0.1, '#174ecb'], [0.2, '#2f7ecb'], [0.3, '#48aace'], [0.35, '#5abed9'], [0.42, '#84d9e5'], [0.5, '#d2ffb8'], [0.55, '#e0ff90'], [0.62, '#f0ea4e'], [0.70, '#f58a2e'], [0.74, '#f57527'], [1, '#cc0c0a']];

function heatColor(v) {
    for (var i = 1; i < heatStops.length; i++) {
        if (v <= heatStops[i][0]) {
            var a = heatStops[i - 1], b = heatStops[i];
            var t = (v - a[0]) / (b[0] - a[0]);
            var out = '#';
            for (var k = 1; k < 7; k += 2) {
                var ca = parseInt(a[1].substr(k, 2), 16), cb = parseInt(b[1].substr(k, 2), 16);
                var m = Math.round(ca + (cb - ca) * t).toString(16);
                out += m.length < 2 ? '0' + m : m;
            }
            return out;
        }
    }
    return heatStops[heatStops.length - 1][1];
}

function noOverhang(s) {
    s.paddingLeft = 0;
    s.paddingRight = 0;
    s.paddingTop = 0;
    s.paddingBottom = 0;
}

var heatTable = [heat3750, heat1250, heatControl];
new Chart(makeCanvas(0, 415, 460, 195), {
    type: 'bar',
    data: {
        labels: heatMarkers,
        datasets: heatTable.map(function (row) {
            return {
                data: row.map(function () { return 1; }),
                backgroundColor: row.map(heatColor),
                borderColor: '#fff',
                borderWidth: {top: 2, bottom: 2, left: 0, right: 0},
                borderSkipped: false,
                barPercentage: 1,
                categoryPercentage: 1
            };
        })
    },
    options: {
        responsive: false,
        devicePixelRatio: 1,
        events: [],
        layout: {padding: {left: 7, bottom: 4.8, top: 0, right: 0}},
        scales: {
            x: {
                position: 'top', stacked: true,
                grid: {display: false, drawTicks: false},
                border: {display: false},
                afterFit: function (s) { s.height = 97.4; noOverhang(s); },
                ticks: {minRotation: 90, maxRotation: 90, autoSkip: false, padding: 5.4, labelOffset: 21.5, font: {size: 16.5}, color: '#111'}
            },
            y: {
                position: 'right', stacked: true, min: 0, max: 3,
                grid: {display: false, drawTicks: false},
                border: {display: false},
                afterBuildTicks: function (s) { s.ticks = [{value: 0.5}, {value: 1.5}, {value: 2.5}]; },
                afterFit: function (s) { s.width = 177; noOverhang(s); },
                ticks: {autoSkip: false, padding: 7, font: {size: 16.5}, color: '#111', callback: function (v, i) { return heatRows[2 - i]; }}
            }
        }
    }
});

// ---- text ----
addText('a', 5, 12, 14, {bold: true});
addText('b', 4, 217.7, 14, {bold: true});
addText('c', 5, 433, 14, {bold: true});
addText('d', 5, 632, 14, {bold: true});
addText('Birabresib', 115, 11, 16.5, {center: true});
addText('0 nM', 111, 31.7, 16.5, {center: true});
addText('3,750 nM', 262.5, 31.7, 16.5, {center: true});
addText('CD45-RA', 12.7, 106, 15.4, {center: true, rot: -90});
addText('CD45', 105, 195, 14, {center: true});
addText('DMSO', 37.3, 692.3, 14.5, {center: true});
addText('Tretinoin', 34, 812.7, 14.5, {center: true});
addText('375 nM', 36, 830, 14.5, {center: true});
addText('SSC', 74, 817.7, 12, {center: true, rot: -90});
addText('CD45-RA', 223.3, 826, 12, {center: true, rot: -90});
addText('CD117', 379.3, 819, 12, {center: true, rot: -90});
addText('CD38', 529, 817, 12, {center: true, rot: -90});
addText('CD45', 150, 895, 12, {center: true});
addText('Differ. panel', 314.7, 895, 12, {center: true});
addText('HLA-DR', 461.7, 895.7, 12, {center: true});
addText('CD34', 605, 895, 12, {center: true});

// ---- arrows ----
var arrowSvg = '<svg width="676" height="904" xmlns="http://www.w3.org/2000/svg">'
    + '<line x1="133" y1="195" x2="252" y2="195" stroke="#000" stroke-width="1.2"/><polygon points="264,195 249,189 252,195 249,201" fill="#000"/>';
[74.7, 223.3, 379.3, 529.7].forEach(function (x) {
    arrowSvg += '<line x1="' + x + '" y1="795" x2="' + x + '" y2="684" stroke="#222" stroke-width="1.2"/>'
        + '<polygon points="' + x + ',675 ' + (x - 4.5) + ',686 ' + (x + 4.5) + ',686" fill="#000"/>';
});
arrowSvg += '</svg>';
page.insertAdjacentHTML('beforeend', arrowSvg);
</script>
</body>
</html>
